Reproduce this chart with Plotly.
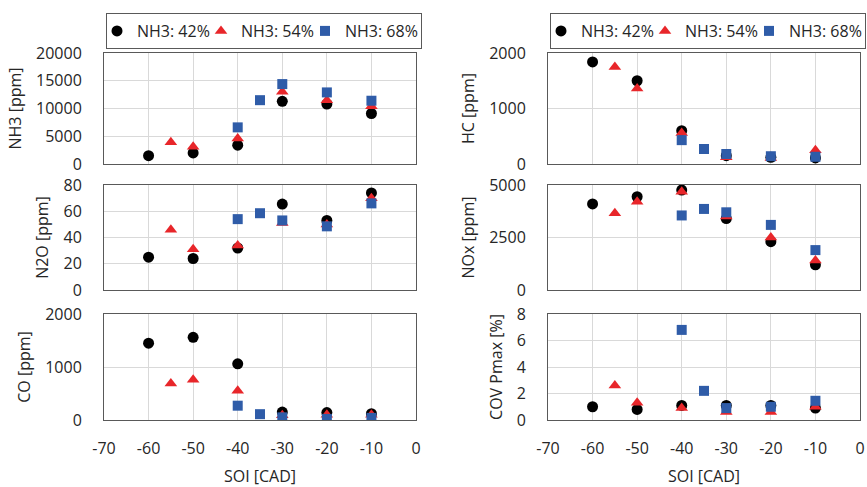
import plotly.graph_objects as go

# ---- data ----
x42 = [-60, -50, -40, -30, -20, -10]
x54 = [-55, -50, -40, -30, -20, -10]
x68 = [-40, -35, -30, -20, -10]

series_names = ["NH3: 42%", "NH3: 54%", "NH3: 68%"]

nh3_42 = [1500, 2000, 3400, 11300, 10800, 9100]
nh3_54 = [3900, 3100, 4600, 13000, 11500, 10400]
nh3_68 = [6600, 11500, 14400, 12900, 11400]

n2o_42 = [25, 24, 32, 65.5, 53, 74]
n2o_54 = [46, 31, 34, 51, 50, 70]
n2o_68 = [54, 58.5, 53, 48.5, 66]

co_42 = [1450, 1560, 1060, 150, 140, 120]
co_54 = [690, 760, 550, 90, 100, 100]
co_68 = [270, 110, 50, 20, 40]

hc_42 = [1840, 1500, 600, 150, 120, 110]
hc_54 = [1750, 1360, 560, 120, 110, 250]
hc_68 = [430, 270, 180, 140, 130]

nox_42 = [4100, 4440, 4760, 3400, 2300, 1200]
nox_54 = [3650, 4200, 4680, 3500, 2500, 1400]
nox_68 = [3550, 3860, 3700, 3100, 1900]

cov_42 = [1.0, 0.8, 1.1, 1.1, 1.1, 0.9]
cov_54 = [2.6, 1.3, 0.9, 0.6, 0.6, 1.0]
cov_68 = [6.8, 2.2, 0.9, 1.0, 1.45]

x_ticks = [-70, -60, -50, -40, -30, -20, -10, 0]
x_ticktext = ["-70", "-60", "-50", "-40", "-30", "-20", "-10", "0"]

panels = [
    # (axis index, y title, data42, data54, data68, y range, dtick, col)
    (1, "NH3 [ppm]", nh3_42, nh3_54, nh3_68, [0, 20000], 5000, 1),
    (2, "HC [ppm]", hc_42, hc_54, hc_68, [0, 2000], 1000, 2),
    (3, "N2O [ppm]", n2o_42, n2o_54, n2o_68, [0, 80], 20, 1),
    (4, "NOx [ppm]", nox_42, nox_54, nox_68, [0, 5000], 2500, 2),
    (5, "CO [ppm]", co_42, co_54, co_68, [0, 2000], 1000, 1),
    (6, "COV Pmax [%]", cov_42, cov_54, cov_68, [0, 8], 2, 2),
]

W, H = 867, 487
FONT = "Open Sans"
TXT = "#262626"
RED = "#e8262a"
BLUE = "#2f5ca8"
FS = 16

xdom = {1: [104 / W, 416 / W], 2: [548 / W, 860 / W]}
ydom = {
    1: [1 - 164 / H, 1 - 53 / H],
    2: [1 - 164 / H, 1 - 53 / H],
    3: [1 - 290 / H, 1 - 185 / H],
    4: [1 - 290 / H, 1 - 185 / H],
    5: [1 - 420 / H, 1 - 314 / H],
    6: [1 - 420 / H, 1 - 314 / H],
}

fig = go.Figure()
layout = {}
markers = [
    dict(symbol="circle", size=11, color="black"),
    dict(symbol="triangle-up", size=11, color=RED),
    dict(symbol="square", size=10, color=BLUE),
]
leg_widths = [69, 69, 71]

for idx, ytitle, d42, d54, d68, yr, dt, col in panels:
    sfx = "" if idx == 1 else str(idx)
    leg = "legend" if col == 1 else "legend2"
    for name, xs, ys, mk, lw in zip(series_names, [x42, x54, x68], [d42, d54, d68], markers, leg_widths):
        fig.add_trace(go.Scatter(
            x=xs, y=ys, mode="markers", name=name, marker=mk,
            xaxis="x" + sfx, yaxis="y" + sfx,
            showlegend=(idx in (1, 2)), legend=leg, legendwidth=lw,
        ))
    bottom = idx in (5, 6)
    layout["xaxis" + sfx] = dict(
        domain=xdom[col], anchor="y" + sfx, range=[-70, 0],
        tickvals=x_ticks, ticktext=x_ticktext,
        showticklabels=bottom, showgrid=True, gridcolor="#d9d9d9", gridwidth=1,
        showline=True, linecolor="#595959", linewidth=1, mirror=True,
        zeroline=False, ticklabelstandoff=14, automargin=False,
        tickfont=dict(family=FONT, size=FS, color=TXT),
        title=dict(text="SOI [CAD]" if bottom else "", font=dict(family=FONT, size=FS, color=TXT), standoff=18),
    )
    layout["yaxis" + sfx] = dict(
        domain=ydom[idx], anchor="x" + sfx, range=yr, dtick=dt, tick0=0,
        tickformat="d", automargin=False,
        showgrid=True, gridcolor="#d9d9d9", gridwidth=1,
        showline=True, linecolor="#595959", linewidth=1, mirror=True,
        zeroline=False, ticklabelstandoff=18,
        tickfont=dict(family=FONT, size=FS, color=TXT),
        title=dict(text=ytitle, font=dict(family=FONT, size=FS, color=TXT), standoff=10),
    )

legcommon = dict(
    orientation="h", xanchor="left", yanchor="top", y=1 - 13 / H,
    bordercolor="#595959", borderwidth=1, bgcolor="white",
    font=dict(family=FONT, size=FS, color=TXT),
    itemwidth=30, indentation=-10,
)
layout["legend"] = dict(x=106 / W, **legcommon)
layout["legend2"] = dict(x=550 / W, **legcommon)

fig.update_layout(
    width=W, height=H,
    margin=dict(l=0, r=0, t=0, b=0),
    paper_bgcolor="white", plot_bgcolor="white",
    font=dict(family=FONT, size=FS, color=TXT),
    **layout,
)

fig.write_html("out.html")
